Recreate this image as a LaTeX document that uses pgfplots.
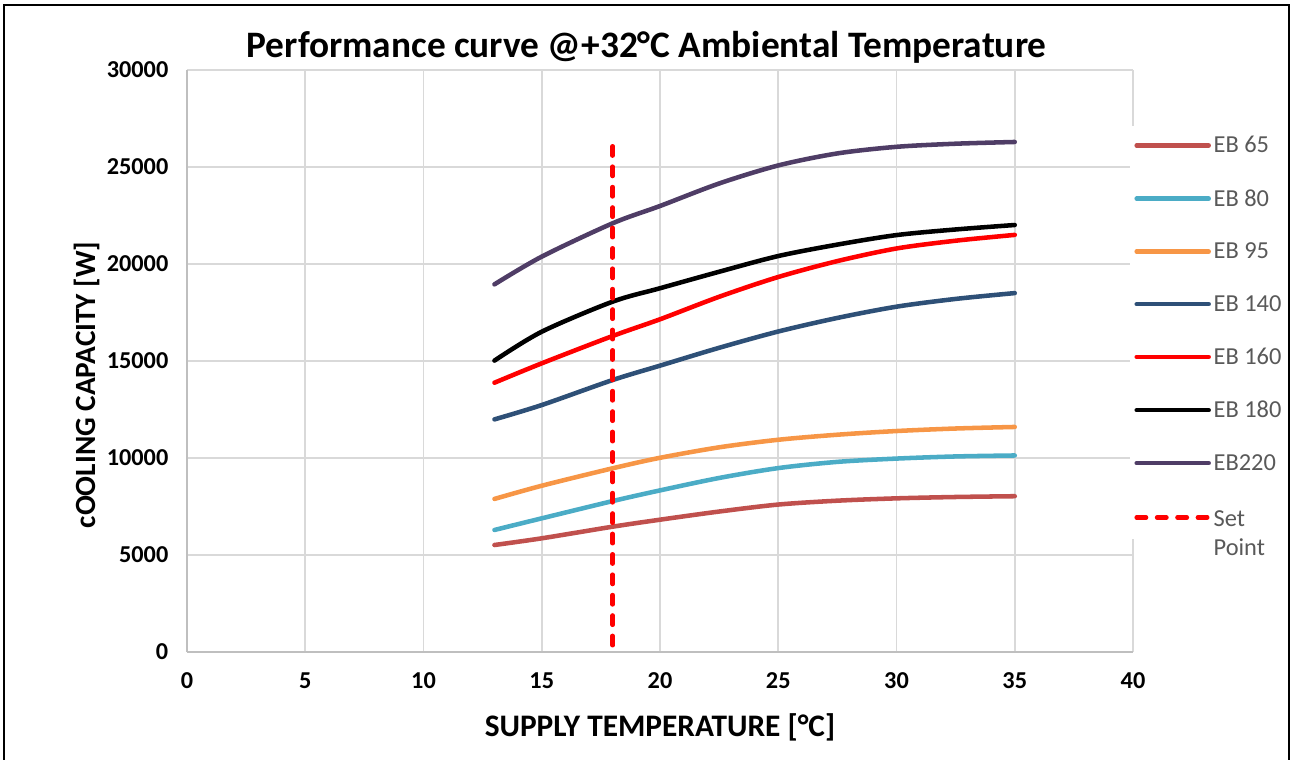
\documentclass[border=0pt]{standalone}
\usepackage{pgfplots}
\pgfplotsset{compat=1.18}
\usepackage{fontspec}
\setmainfont{Carlito}
\definecolor{cEBsixfive}{HTML}{C0504D}
\definecolor{cEBeighty}{HTML}{4BACC6}
\definecolor{cEBninefive}{HTML}{F79646}
\definecolor{cEBonefour}{HTML}{2E5077}
\definecolor{cEBtwotwo}{HTML}{4F3D66}
\definecolor{gridc}{HTML}{D9D9D9}
\definecolor{axisc}{HTML}{BFBFBF}
\definecolor{legtext}{HTML}{595959}
\begin{document}
\begin{tikzpicture}
\path[use as bounding box] (0pt,0pt) rectangle (969pt,570pt);
\draw[black,line width=1.5pt] (3pt,-5pt) -- (3pt,566.25pt) -- (966.75pt,566.25pt) -- (966.75pt,-5pt);
\begin{axis}[
  at={(140.25pt,81pt)}, anchor=south west,
  scale only axis, width=709.5pt, height=436.5pt,
  xmin=0, xmax=40, ymin=0, ymax=30000,
  xtick={0,5,...,40}, ytick={0,5000,...,30000},
  scaled y ticks=false,
  /pgf/number format/assume math mode=true,
  yticklabel={\pgfmathprintnumber[fixed,1000 sep={}]{\tick}},
  tick label style={font=\fontsize{18.2pt}{21pt}\selectfont\bfseries},
  xticklabel style={yshift=-12pt},
  yticklabel style={xshift=-10.5pt},
  major tick length=0pt,
  grid=major, major grid style={gridc, line width=1.2pt},
  axis lines*=left, axis line style={-, axisc, line width=1.4pt},
  xlabel={SUPPLY TEMPERATURE [°C]},
  ylabel={cOOLING CAPACITY [W]},
  xlabel style={font=\fontsize{23.5pt}{27pt}\selectfont\bfseries, at={(axis description cs:0.5,-0.129)}, anchor=center},
  ylabel style={font=\fontsize{22pt}{26pt}\selectfont\bfseries, at={(axis description cs:-0.1057,0.459)}, anchor=center},
  title={Performance curve @+32°C Ambiental Temperature},
  title style={font=\fontsize{28pt}{32pt}\selectfont\bfseries, at={(axis description cs:0.486,1.007)}, anchor=base},
  legend style={at={(axis description cs:0.997,0.905)}, anchor=north west, fill=white, draw=none,
    font=\fontsize{18.3pt}{21pt}\selectfont\color{legtext}, row sep=22pt, inner xsep=3pt, inner ysep=6pt},
  legend cell align=left,
  legend image code/.code={\draw[#1] (0pt,0pt) -- (54pt,0pt);},
  every axis plot/.append style={line width=3.4pt, line cap=round, smooth, tension=0.5},
]
\addplot[cEBsixfive] coordinates {(13,5515) (15,5860) (18,6460) (20,6820) (22.5,7240) (25,7600) (27.5,7800) (30,7920) (32.5,7990) (35,8030)};
\addlegendentry{EB 65}
\addplot[cEBeighty] coordinates {(13,6290) (15,6890) (18,7780) (20,8330) (22.5,8970) (25,9480) (27.5,9800) (30,9970) (32.5,10080) (35,10130)};
\addlegendentry{EB 80}
\addplot[cEBninefive] coordinates {(13,7890) (15,8570) (18,9470) (20,10010) (22.5,10550) (25,10940) (27.5,11200) (30,11390) (32.5,11520) (35,11600)};
\addlegendentry{EB 95}
\addplot[cEBonefour] coordinates {(13,11990) (15,12730) (18,14020) (20,14760) (22.5,15680) (25,16520) (27.5,17220) (30,17800) (32.5,18200) (35,18500)};
\addlegendentry{EB 140}
\addplot[red] coordinates {(13,13880) (15,14880) (18,16290) (20,17150) (22.5,18310) (25,19330) (27.5,20150) (30,20800) (32.5,21200) (35,21500)};
\addlegendentry{EB 160}
\addplot[black] coordinates {(13,15020) (15,16510) (18,18060) (20,18750) (22.5,19600) (25,20410) (27.5,21000) (30,21490) (32.5,21780) (35,22010)};
\addlegendentry{EB 180}
\addplot[cEBtwotwo] coordinates {(13,18950) (15,20380) (18,22100) (20,22990) (22.5,24150) (25,25080) (27.5,25700) (30,26040) (32.5,26200) (35,26290)};
\addlegendentry{EB220}
\addplot[red, dash pattern=on 7pt off 8.3pt] coordinates {(18,350) (18,26100)};
\addlegendentry{\begin{tabular}[t]{@{}l@{}}Set\\[1pt]Point\end{tabular}}
\end{axis}
\end{tikzpicture}
\end{document}
